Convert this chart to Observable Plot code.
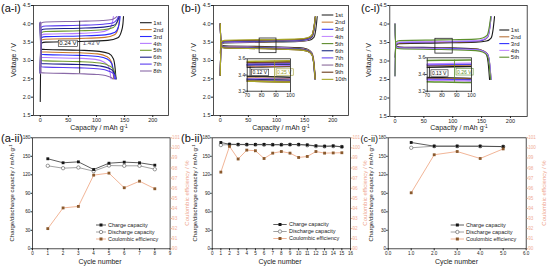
<!DOCTYPE html>
<html><head><meta charset="utf-8">
<script src="https://cdn.jsdelivr.net/npm/d3@7"></script>
<script src="https://cdn.jsdelivr.net/npm/@observablehq/plot@0.6"></script>
<style>
html,body{margin:0;padding:0;background:#fff;}
#chart{position:relative;width:550px;height:268px;overflow:hidden;background:#fff;}
#chart svg{position:absolute;left:0;top:0;}
</style></head><body><div id="chart"></div>
<script>
// ---------------- DATA ----------------
// (a-i) voltage profiles, [capacity mAh/g, voltage V]
const aiCycles = ["1st","2nd","3rd","4th","5th","6th","7th","8th"];
const aiColors = ["#1a1a1a","#c8782a","#2a2aff","#b57cff","#6f9a2e","#1c1f8a","#5b3df0","#8a6aa8"];
const aiCharge = [
 [[0,1.88],[1.5,3.47],[10,3.50],[70,3.52],[120,3.55],[138,3.62],[144,3.78],[147,4.0],[148,4.2]],
 [[0,2.78],[1.5,3.55],[10,3.58],[70,3.60],[115,3.63],[132,3.70],[138,3.85],[140,4.02],[141,4.2]],
 [[0,2.72],[1.5,3.62],[10,3.65],[70,3.67],[115,3.70],[133,3.77],[139,3.92],[141,4.06],[142,4.2]],
 [[0,2.68],[1.5,3.69],[10,3.72],[70,3.74],[105,3.77],[121,3.84],[127,3.97],[129,4.09],[130,4.2]],
 [[0,2.66],[1.5,3.76],[10,3.79],[70,3.81],[112,3.84],[130,3.90],[136,4.02],[138,4.12],[139,4.2]],
 [[0,2.66],[1.5,3.83],[10,3.86],[70,3.88],[113,3.91],[131,3.96],[137,4.06],[139,4.14],[140,4.2]],
 [[0,2.66],[1.5,3.91],[10,3.94],[70,3.96],[112,3.99],[130,4.03],[136,4.11],[138,4.16],[139,4.2]],
 [[0,2.64],[1.5,4.02],[10,4.05],[70,4.07],[110,4.09],[128,4.12],[133,4.16],[135,4.18],[136,4.2]]
];
const aiDischarge = [
 [[0,4.02],[1.5,3.31],[10,3.30],[70,3.28],[105,3.25],[122,3.19],[130,3.05],[133,2.80],[134.6,2.5]],
 [[0,4.00],[1.5,3.24],[10,3.23],[70,3.21],[102,3.18],[118,3.11],[126,2.98],[129,2.75],[130.7,2.5]],
 [[0,3.98],[1.5,3.17],[10,3.16],[70,3.14],[103,3.11],[119,3.04],[127,2.92],[130,2.72],[131.8,2.5]],
 [[0,4.00],[1.5,3.09],[10,3.08],[70,3.06],[98,3.03],[113,2.96],[121,2.85],[124,2.68],[125.9,2.5]],
 [[0,4.02],[1.5,3.00],[10,2.99],[70,2.97],[106,2.93],[122,2.86],[130,2.76],[133,2.64],[135,2.5]],
 [[0,4.03],[1.5,2.92],[10,2.91],[70,2.89],[106,2.85],[122,2.79],[130,2.70],[133,2.60],[134.6,2.5]],
 [[0,4.04],[1.5,2.83],[10,2.82],[70,2.80],[106,2.77],[122,2.71],[130,2.64],[133,2.57],[134.6,2.5]],
 [[0,4.05],[1.5,2.67],[10,2.66],[70,2.64],[100,2.62],[116,2.59],[124,2.55],[127,2.53],[129,2.5]]
];
const aiGapX = 70;
const aiGapLabels = ["0.24 V","1.43 V"];

// (b-i)
const biCycles = ["1st","2nd","3rd","4th","5th","6th","7th","8th","9th","10th"];
const biColors = ["#2b2b2b","#c97f3e","#3434ff","#c48cff","#5d8c2c","#1b2a80","#6a4af0","#8a6a9a","#6a3a1a","#a8a628"];
const biCharge = [
 [[0,3.20],[1.5,3.44],[8,3.48],[80,3.50],[140,3.52],[158.4,3.55],[166.4,3.63],[169.9,3.85],[172.4,4.2]],
 [[0,2.60],[1.5,3.45],[8,3.49],[80,3.51],[140,3.53],[155.5,3.56],[163.5,3.64],[167.0,3.86],[169.5,4.2]],
 [[0,2.60],[1.5,3.46],[8,3.50],[80,3.52],[140,3.54],[155.3,3.57],[163.3,3.65],[166.8,3.87],[169.3,4.2]],
 [[0,2.60],[1.5,3.46],[8,3.50],[80,3.52],[140,3.54],[155.2,3.57],[163.2,3.65],[166.7,3.87],[169.2,4.2]],
 [[0,2.60],[1.5,3.47],[8,3.51],[80,3.53],[140,3.55],[155.2,3.58],[163.2,3.66],[166.7,3.88],[169.2,4.2]],
 [[0,2.60],[1.5,3.47],[8,3.51],[80,3.53],[140,3.55],[155.3,3.58],[163.3,3.66],[166.8,3.88],[169.3,4.2]],
 [[0,2.60],[1.5,3.48],[8,3.52],[80,3.54],[140,3.56],[155.0,3.59],[163.0,3.67],[166.5,3.89],[169.0,4.2]],
 [[0,2.60],[1.5,3.49],[8,3.53],[80,3.55],[140,3.57],[154.9,3.60],[162.9,3.68],[166.4,3.90],[168.9,4.2]],
 [[0,2.60],[1.5,3.50],[8,3.54],[80,3.56],[140,3.58],[155.1,3.61],[163.1,3.69],[166.6,3.91],[169.1,4.2]],
 [[0,2.60],[1.5,3.51],[8,3.55],[80,3.57],[140,3.59],[155.2,3.62],[163.2,3.70],[166.7,3.92],[169.2,4.2]]
];
const biDischarge = [
 [[0,4.00],[1.5,3.43],[8,3.40],[80,3.38],[140,3.35],[154.2,3.31],[162.2,3.22],[165.7,2.98],[168.2,2.5]],
 [[0,4.00],[1.5,3.41],[8,3.38],[80,3.36],[140,3.33],[155.1,3.29],[163.1,3.20],[166.6,2.96],[169.1,2.5]],
 [[0,4.00],[1.5,3.40],[8,3.37],[80,3.35],[140,3.32],[154.9,3.28],[162.9,3.19],[166.4,2.95],[168.9,2.5]],
 [[0,4.00],[1.5,3.40],[8,3.37],[80,3.35],[140,3.32],[154.8,3.28],[162.8,3.19],[166.3,2.95],[168.8,2.5]],
 [[0,4.00],[1.5,3.39],[8,3.36],[80,3.34],[140,3.31],[154.7,3.27],[162.7,3.18],[166.2,2.94],[168.7,2.5]],
 [[0,4.00],[1.5,3.39],[8,3.36],[80,3.34],[140,3.31],[154.6,3.27],[162.6,3.18],[166.1,2.94],[168.6,2.5]],
 [[0,4.00],[1.5,3.38],[8,3.35],[80,3.33],[140,3.30],[154.5,3.26],[162.5,3.17],[166.0,2.93],[168.5,2.5]],
 [[0,4.00],[1.5,3.38],[8,3.35],[80,3.33],[140,3.30],[154.6,3.26],[162.6,3.17],[166.1,2.93],[168.6,2.5]],
 [[0,4.00],[1.5,3.37],[8,3.34],[80,3.32],[140,3.29],[154.9,3.25],[162.9,3.16],[166.4,2.92],[168.9,2.5]],
 [[0,4.00],[1.5,3.37],[8,3.34],[80,3.32],[140,3.29],[154.8,3.25],[162.8,3.16],[166.3,2.92],[168.8,2.5]]
];
const biInsetX = [70,100];
const biInsetY = [3.2,3.6];
const biGapX = [72,89];
const biGapLabels = ["0.12 V","0.25 V"];

// (c-i)
const ciCycles = ["1st","2nd","3rd","4th","5th"];
const ciColors = ["#1a1a1a","#b8743c","#2f2fff","#c08aff","#5c8f2c"];
const ciCharge = [
 [[0,3.10],[1.5,3.43],[8,3.47],[80,3.49],[140,3.51],[158.4,3.54],[166.4,3.62],[169.9,3.85],[172.4,4.2]],
 [[0,2.60],[1.5,3.45],[8,3.49],[80,3.51],[140,3.53],[152.4,3.56],[160.4,3.64],[163.9,3.86],[166.4,4.2]],
 [[0,2.60],[1.5,3.46],[8,3.50],[80,3.52],[140,3.54],[152.4,3.57],[160.4,3.65],[163.9,3.87],[166.4,4.2]],
 [[0,2.60],[1.5,3.47],[8,3.51],[80,3.53],[140,3.55],[152.4,3.58],[160.4,3.66],[163.9,3.88],[166.4,4.2]],
 [[0,2.60],[1.5,3.51],[8,3.55],[80,3.57],[140,3.59],[151.8,3.62],[159.8,3.70],[163.3,3.92],[165.8,4.2]]
];
const ciDischarge = [
 [[0,4.00],[1.5,3.41],[8,3.38],[80,3.36],[140,3.33],[149.8,3.29],[157.8,3.20],[161.3,2.96],[163.8,2.5]],
 [[0,4.00],[1.5,3.40],[8,3.37],[80,3.35],[140,3.32],[152.4,3.28],[160.4,3.19],[163.9,2.95],[166.4,2.5]],
 [[0,4.00],[1.5,3.39],[8,3.36],[80,3.34],[140,3.31],[152.4,3.27],[160.4,3.18],[163.9,2.94],[166.4,2.5]],
 [[0,4.00],[1.5,3.38],[8,3.35],[80,3.33],[140,3.30],[152.2,3.26],[160.2,3.17],[163.7,2.93],[166.2,2.5]],
 [[0,4.00],[1.5,3.36],[8,3.33],[80,3.31],[140,3.28],[151.6,3.24],[159.6,3.15],[163.1,2.91],[165.6,2.5]]
];
const ciInsetX = [70,100];
const ciInsetY = [3.2,3.6];
const ciGapX = [71.5,88.5];
const ciGapLabels = ["0.13 V","0.26 V"];

// (a-ii), (b-ii), (c-ii) cycling
const aiiCycle = [1,2,3,4,5,6,7,8];
const aiiCharge = [146.0,139.5,141.0,128.6,138.8,140.5,139.5,135.6];
const aiiDischarge = [134.6,130.7,131.8,125.9,135.0,134.6,134.6,129.0];
const aiiCE = [92.0,94.05,94.2,97.3,97.5,96.05,96.7,95.95];

const biiCycle = [1,2,3,4,5,6,7,8,9,10,11,12,13,14,15];
const biiCharge = [172.4,169.5,169.3,169.2,169.2,169.3,169.0,168.9,169.1,169.2,168.4,167.0,166.3,166.8,165.6];
const biiDischarge = [168.2,169.1,168.9,168.8,168.7,168.6,168.5,168.6,168.9,168.8,167.9,166.4,166.0,166.5,165.2];
const biiCE = [97.6,100.15,98.9,99.78,99.72,98.95,99.48,99.64,99.48,99.05,99.15,99.64,99.48,99.5,99.52];

const ciiCycle = [1,2,3,4,5];
const ciiCharge = [172.4,166.4,166.4,166.4,165.8];
const ciiDischarge = [163.8,166.4,166.4,166.2,165.6];
const ciiCE = [95.55,99.32,99.64,98.95,99.9];

const seriesNames = ["Charge capacity","Discharge capacity","Coulombic efficiency"];

// ---------------- RENDER ----------------
const W = 550, H = 268;
const FONT = '"Liberation Sans", Arial, sans-serif';
const root = document.getElementById("chart");
const add = el => { root.appendChild(el); return el; };
const baseStyle = fs => ({background:"transparent", overflow:"visible", fontFamily:FONT, fontSize:fs+"px", color:"#222"});
const margins = ([l,r,t,b]) => ({width:W, height:H, marginLeft:l, marginRight:W-r, marginTop:t, marginBottom:H-b});

function valAt(curve, x) {
  for (let i = 1; i < curve.length; i++) {
    const [x0,y0] = curve[i-1], [x1,y1] = curve[i];
    if (x >= x0 && x <= x1) return y0 + (y1-y0)*(x-x0)/(x1-x0);
  }
  return NaN;
}
function curveRows(cycles, charge, discharge) {
  const rows = [];
  cycles.forEach((c,i) => {
    charge[i].forEach(([x,y]) => rows.push({cycle:c, key:c+"-c", x, y}));
    discharge[i].forEach(([x,y]) => rows.push({cycle:c, key:c+"-d", x, y}));
  });
  return rows;
}

function topPanel({frame, xDomain, cycles, colors, charge, discharge, extra}) {
  const rows = curveRows(cycles, charge, discharge);
  return add(Plot.plot({
    ...margins(frame),
    x:{domain:xDomain}, y:{domain:[1.5,4.5]},
    color:{domain:cycles, range:colors},
    style: baseStyle(5.5),
    marks:[
      Plot.line(rows, {x:"x", y:"y", z:"key", stroke:"cycle", strokeWidth:1.1, curve:"monotone-x"}),
      ...extra,
      Plot.frame({stroke:"#222", strokeWidth:0.8}),
      Plot.axisX({ticks:[0,50,100,150,200], tickSize:2, tickPadding:1, label:null}),
      Plot.axisY({ticks:[1.5,2,2.5,3,3.5,4,4.5], tickFormat:d3.format(".1f"), tickSize:2, tickPadding:1, label:null})
    ]
  }));
}

function insetPanel({frame, xDomain, yDomain, cycles, colors, charge, discharge, gapX, gapLabels, gapColors}) {
  const rows = curveRows(cycles, charge, discharge);
  const n = cycles.length - 1;
  const gaps = [0, n].map((ci, k) => ({
    x: gapX[k],
    y1: valAt(discharge[ci], gapX[k]),
    y2: valAt(charge[ci], gapX[k]),
    ym: (valAt(discharge[ci], gapX[k]) + valAt(charge[ci], gapX[k])) / 2,
    t: gapLabels[k], c: gapColors[k]
  }));
  return add(Plot.plot({
    ...margins(frame),
    x:{domain:xDomain}, y:{domain:yDomain},
    color:{domain:cycles, range:colors},
    style: baseStyle(5),
    marks:[
      Plot.frame({fill:"white", stroke:"none"}),
      Plot.line(rows, {x:"x", y:"y", z:"key", stroke:"cycle", strokeWidth:1.5, curve:"monotone-x", clip:true}),
      Plot.ruleX(gaps, {x:"x", y1:"y1", y2:"y2", stroke:"c", strokeWidth:0.8}),
      Plot.text(gaps, {x:"x", y:"ym", text:"t", fill:"c", textAnchor:"start", dx:2.5, dy:1, fontSize:5}),
      Plot.frame({stroke:"#222", strokeWidth:0.8}),
      Plot.axisX({ticks:[70,80,90,100], tickSize:1.5, tickPadding:0.5, label:null}),
      Plot.axisY({ticks:[3.2,3.4,3.6], tickFormat:d3.format(".1f"), tickSize:1.5, tickPadding:0.5, label:null})
    ]
  }));
}

function bottomPanel({frame, xMax, cycles, charge, discharge, ce}) {
  const rows = cycles.map((c,i) => ({c, ch:charge[i], dis:discharge[i], ce:ce[i]}));
  add(Plot.plot({
    ...margins(frame),
    x:{domain:[0,xMax]}, y:{domain:[0,180]},
    style: baseStyle(4.6),
    marks:[
      Plot.frame({stroke:"#222", strokeWidth:0.8}),
      Plot.axisX({ticks:d3.range(0,xMax+1), tickSize:2, tickPadding:1, label:null}),
      Plot.axisY({ticks:d3.range(0,181,30), tickSize:1.5, tickPadding:0.6, label:null}),
      Plot.line(rows, {x:"c", y:"dis", stroke:"#8a8a8a", strokeWidth:0.8}),
      Plot.line(rows, {x:"c", y:"ch", stroke:"#333", strokeWidth:0.8}),
      Plot.dot(rows, {x:"c", y:"dis", r:1.7, stroke:"#555", fill:"white", strokeWidth:0.6}),
      Plot.dot(rows, {x:"c", y:"ch", symbol:"square", r:1.6, fill:"#151515"})
    ]
  }));
  add(Plot.plot({
    ...margins(frame),
    x:{domain:[0,xMax], axis:null}, y:{domain:[90,101]},
    style: baseStyle(4.6),
    marks:[
      Plot.axisY({anchor:"right", ticks:d3.range(90,102), tickSize:1.5, tickPadding:0.5, label:null, color:"#f0ad95"}),
      Plot.line(rows, {x:"c", y:"ce", stroke:"#eda27c", strokeWidth:0.8}),
      Plot.dot(rows, {x:"c", y:"ce", symbol:"square", r:1.6, fill:"#8a5a2e"})
    ]
  }));
}

// (a-i)
const aiGap = [{x:aiGapX, y1:valAt(aiDischarge[7],aiGapX), y2:valAt(aiCharge[7],aiGapX), ym:valAt(aiCharge[0],aiGapX)}];
topPanel({frame:[33,168,5,115], xDomain:[-12,228], cycles:aiCycles, colors:aiColors, charge:aiCharge, discharge:aiDischarge,
  extra:[
    Plot.ruleX(aiGap, {x:"x", y1:"y1", y2:"y2", stroke:"#111", strokeWidth:0.8}),
    Plot.text(aiGap, {x:"x", y:"ym", text:() => aiGapLabels[0], textAnchor:"end", dx:-3, dy:2, fontSize:6, fill:"#111"}),
    Plot.text(aiGap, {x:"x", y:"ym", text:() => aiGapLabels[1], textAnchor:"start", dx:3, dy:2, fontSize:6, fill:"#4a4a5a"})
  ]});
// (b-i)
topPanel({frame:[213,348,5,115], xDomain:[-12,228], cycles:biCycles, colors:biColors, charge:biCharge, discharge:biDischarge,
  extra:[Plot.rect([{x1:biInsetX[0],x2:biInsetX[1],y1:biInsetY[0],y2:biInsetY[1]}], {x1:"x1",x2:"x2",y1:"y1",y2:"y2",fill:"none",stroke:"#222",strokeWidth:0.8})]});
// (c-i)
topPanel({frame:[389.3,526.7,5,116], xDomain:[-9,229], cycles:ciCycles, colors:ciColors, charge:ciCharge, discharge:ciDischarge,
  extra:[Plot.rect([{x1:ciInsetX[0],x2:ciInsetX[1],y1:ciInsetY[0],y2:ciInsetY[1]}], {x1:"x1",x2:"x2",y1:"y1",y2:"y2",fill:"none",stroke:"#222",strokeWidth:0.8})]});

insetPanel({frame:[246.7,290,58.3,90.7], xDomain:biInsetX, yDomain:biInsetY, cycles:biCycles, colors:biColors,
  charge:biCharge, discharge:biDischarge, gapX:biGapX, gapLabels:biGapLabels, gapColors:["#111","#9c9a2a"]});
insetPanel({frame:[426.7,471,57.3,90.7], xDomain:ciInsetX, yDomain:ciInsetY, cycles:ciCycles, colors:ciColors,
  charge:ciCharge, discharge:ciDischarge, gapX:ciGapX, gapLabels:ciGapLabels, gapColors:["#111","#5c8f2c"]});

bottomPanel({frame:[32,169.6,137.3,248.3], xMax:9, cycles:aiiCycle, charge:aiiCharge, discharge:aiiDischarge, ce:aiiCE});
bottomPanel({frame:[211.7,350,137.3,248.3], xMax:16, cycles:biiCycle, charge:biiCharge, discharge:biiDischarge, ce:biiCE});
bottomPanel({frame:[387.7,525.7,137.3,248.3], xMax:6, cycles:ciiCycle, charge:ciiCharge, discharge:ciiDischarge, ce:ciiCE});

// ---------- overlay: titles, legends ----------
const ov = d3.select(root).append("svg").attr("width",W).attr("height",H).style("font-family",FONT).style("overflow","visible");

function capLabel(sel, x, y, rotate, fs, main) {
  const t = sel.append("text").attr("text-anchor","middle").attr("font-size",fs).attr("fill","#222")
    .attr("transform", `translate(${x},${y})` + (rotate ? " rotate(-90)" : "")).attr("dy","0.35em");
  t.append("tspan").text(main);
  t.append("tspan").attr("dy", -fs*0.35).attr("font-size", fs*0.68).text("-1");
  return t;
}
function plainLabel(x, y, rotate, fs, txt, fill="#222") {
  ov.append("text").attr("text-anchor","middle").attr("font-size",fs).attr("fill",fill).attr("dy","0.35em")
    .attr("transform", `translate(${x},${y})` + (rotate ? " rotate(-90)" : "")).text(txt);
}
// top axis titles
[[13.5,99],[193.5,281],[368.5,459]].forEach(([yx,xx]) => {
  plainLabel(yx, 60, true, 7, "Voltage / V");
  capLabel(ov, xx, 128, false, 7, "Capacity / mAh g");
});
// bottom axis titles
[[12,186.5,100],[194.5,364.5,280],[370.5,544,456.5]].forEach(([lx,rx,cx]) => {
  capLabel(ov, lx, 193, true, 6, "Charge/discharge capacity / mAh g");
  plainLabel(rx, 193, true, 6, "Coulombic efficiency / %", "#eea48c");
  plainLabel(cx, 261.5, false, 7, "Cycle number");
});
// panel labels
[["(a-i)",1,11.5,11],["(b-i)",181,11.5,11],["(c-i)",361,11.5,11],["(a-ii)",1,141.5,11],["(b-ii)",181,141.5,11],["(c-ii)",360.6,141.5,9]]
  .forEach(([t,x,y,fs]) => ov.append("text").attr("x",x).attr("y",y).attr("font-size",fs).attr("fill","#111").text(t));

// cycle legends
function cycleLegend({x0,x1,xt,y0,step,labels,colors}) {
  labels.forEach((lab,i) => {
    const y = y0 + i*step;
    ov.append("line").attr("x1",x0).attr("x2",x1).attr("y1",y).attr("y2",y).attr("stroke",colors[i]).attr("stroke-width",1.1);
    ov.append("text").attr("x",xt).attr("y",y).attr("dy","0.35em").attr("font-size",6).attr("fill","#222").text(lab);
  });
}
cycleLegend({x0:140,x1:151.7,xt:153.3,y0:22.7,step:6.9,labels:aiCycles,colors:aiColors});
cycleLegend({x0:321.7,x1:333.3,xt:335,y0:15,step:7.15,labels:biCycles,colors:biColors});
cycleLegend({x0:499.3,x1:509.3,xt:510.8,y0:30,step:6.8,labels:ciCycles,colors:ciColors});

// series legends
function seriesLegend({x0,x1,xt,y0,step}) {
  const st = [
    {line:"#333", shape:"square", fill:"#151515", stroke:"none"},
    {line:"#8a8a8a", shape:"circle", fill:"white", stroke:"#555"},
    {line:"#eda27c", shape:"square", fill:"#8a5a2e", stroke:"none"}
  ];
  seriesNames.forEach((name,i) => {
    const y = y0 + i*step, xm = (x0+x1)/2, s = st[i];
    ov.append("line").attr("x1",x0).attr("x2",x1).attr("y1",y).attr("y2",y).attr("stroke",s.line).attr("stroke-width",0.8);
    if (s.shape === "square") ov.append("rect").attr("x",xm-1.5).attr("y",y-1.5).attr("width",3).attr("height",3).attr("fill",s.fill);
    else ov.append("circle").attr("cx",xm).attr("cy",y).attr("r",1.7).attr("fill",s.fill).attr("stroke",s.stroke).attr("stroke-width",0.6);
    ov.append("text").attr("x",xt).attr("y",y).attr("dy","0.35em").attr("font-size",5.5).attr("fill","#222").text(name);
  });
}
seriesLegend({x0:96,x1:106,xt:108,y0:225,step:7});
seriesLegend({x0:273.3,x1:286.7,xt:289,y0:224.5,step:7});
seriesLegend({x0:450.7,x1:464,xt:466,y0:225,step:7});

// boxes around gap labels
const boxed = {"0.24 V":"#222","0.12 V":"#222","0.13 V":"#222","0.25 V":"#9c9a2a","0.26 V":"#5c8f2c"};
d3.select(root).selectAll("text").each(function() {
  const c = boxed[this.textContent];
  if (!c) return;
  const bb = this.getBBox();
  const r = document.createElementNS("http://www.w3.org/2000/svg","rect");
  r.setAttribute("x", bb.x-1); r.setAttribute("y", bb.y-0.2);
  r.setAttribute("width", bb.width+2); r.setAttribute("height", bb.height+0.4);
  r.setAttribute("fill","white"); r.setAttribute("stroke", c); r.setAttribute("stroke-width", 0.6);
  if (this.getAttribute("transform")) r.setAttribute("transform", this.getAttribute("transform"));
  this.parentNode.insertBefore(r, this);
});
</script></body></html>
